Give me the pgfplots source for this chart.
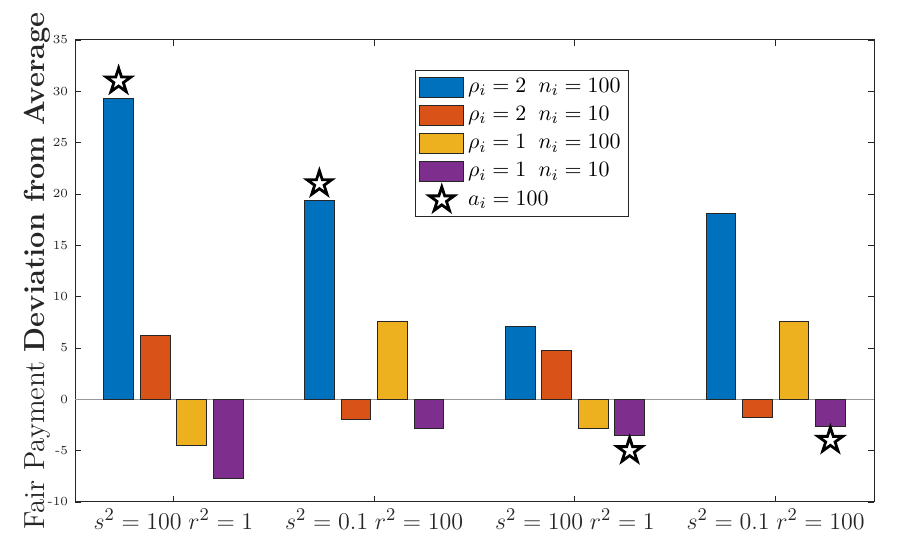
\documentclass[border=0pt]{standalone}
\usepackage{pgfplots}
\pgfplotsset{compat=1.18}
\definecolor{c1}{rgb}{0,0.447,0.741}
\definecolor{c2}{rgb}{0.850,0.325,0.098}
\definecolor{c3}{rgb}{0.929,0.694,0.125}
\definecolor{c4}{rgb}{0.494,0.184,0.556}
\definecolor{axc}{rgb}{0.15,0.15,0.15}
\pgfdeclareplotmark{pentagram}{%
 \pgfpathmoveto{\pgfpointpolar{90}{\pgfplotmarksize}}%
 \pgfpathlineto{\pgfpointpolar{126}{0.382\pgfplotmarksize}}%
 \pgfpathlineto{\pgfpointpolar{162}{\pgfplotmarksize}}%
 \pgfpathlineto{\pgfpointpolar{198}{0.382\pgfplotmarksize}}%
 \pgfpathlineto{\pgfpointpolar{234}{\pgfplotmarksize}}%
 \pgfpathlineto{\pgfpointpolar{270}{0.382\pgfplotmarksize}}%
 \pgfpathlineto{\pgfpointpolar{306}{\pgfplotmarksize}}%
 \pgfpathlineto{\pgfpointpolar{342}{0.382\pgfplotmarksize}}%
 \pgfpathlineto{\pgfpointpolar{18}{\pgfplotmarksize}}%
 \pgfpathlineto{\pgfpointpolar{54}{0.382\pgfplotmarksize}}%
 \pgfpathclose
 \pgfusepathqfillstroke}
\pgfplotsset{
 barleg/.style={legend image code/.code={\draw[##1] (0pt,-5pt) rectangle (22pt,5pt);}},
 starleg/.style={legend image code/.code={\draw[##1] plot coordinates {(11pt,0pt)};}},
 mybar/.style={ybar, bar width=0.148, bar shift=#1, draw=axc, line width=0.4pt},
}
\begin{document}
\begin{tikzpicture}
\path[use as bounding box] (-37.5pt,-21pt) rectangle (412pt,251pt);
\begin{axis}[
 at={(0,0)}, anchor=south west,
 scale only axis, width=399.5pt, height=231pt,
 xmin=0.51, xmax=4.49, ymin=-10, ymax=35,
 xtick={1,2,3,4},
 xticklabels={{$s^2=100\;r^2=1$},{$s^2=0.1\;r^2=100$},{$s^2=100\;r^2=1$},{$s^2=0.1\;r^2=100$}},
 ytick={-10,-5,0,5,10,15,20,25,30,35},
 yticklabels={-10,-5,0,5,10,15,20,25,30,35},
 tick align=inside, major tick length=3pt,
 axis line style={axc, line width=0.5pt},
 tick style={axc, line width=0.4pt},
 xticklabel style={font=\fontsize{12.2}{14}\selectfont, text=axc},
 yticklabel style={font=\fontsize{6.2}{7}\selectfont, text=axc},
 ylabel={Fair Payment \textbf{Deviation from Average}},
 ylabel style={at={(axis description cs:-0.0475,0.5)}, anchor=center, font=\fontsize{14.5}{16}\selectfont, text=axc},
 legend style={at={(0.4255,0.935)}, anchor=north west, draw=axc, font=\fontsize{11.3}{13}\selectfont, row sep=1.5pt, inner xsep=2pt},
 legend cell align=left,
]
\addplot[forget plot, gray!80, line width=0.5pt] coordinates {(0.51,0) (4.49,0)};
\addplot[mybar=-0.2727, fill=c1, barleg] coordinates {(1,29.3) (2,19.4) (3,7.1) (4,18.1)};
\addplot[mybar=-0.0909, fill=c2, barleg] coordinates {(1,6.2) (2,-2.0) (3,4.8) (4,-1.8)};
\addplot[mybar=0.0909, fill=c3, barleg] coordinates {(1,-4.5) (2,7.6) (3,-2.8) (4,7.6)};
\addplot[mybar=0.2727, fill=c4, barleg] coordinates {(1,-7.7) (2,-2.8) (3,-3.5) (4,-2.6)};
\addplot[only marks, mark=pentagram, mark size=6.5pt, mark options={fill=white, draw=black, line width=1.4pt}, starleg]
 coordinates {(0.7273,31) (1.7273,21) (3.2727,-5) (4.2727,-4)};
\legend{$\rho_i=2\;\;n_i=100$,$\rho_i=2\;\;n_i=10$,$\rho_i=1\;\;n_i=100$,$\rho_i=1\;\;n_i=10$,$a_i=100$}
\end{axis}
\end{tikzpicture}
\end{document}
